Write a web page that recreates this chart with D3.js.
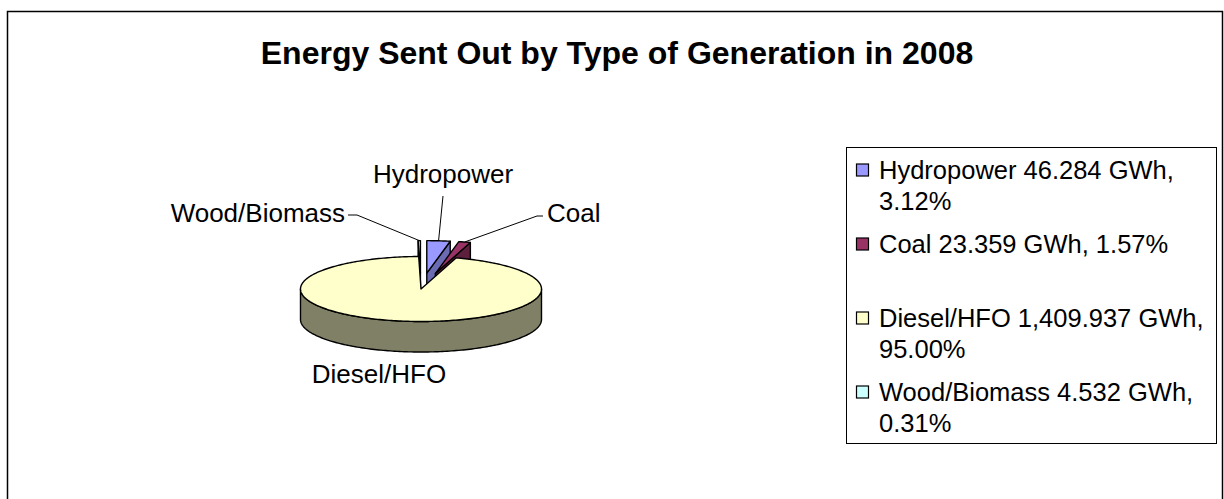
<!DOCTYPE html>
<html>
<head>
<meta charset="utf-8">
<script src="https://cdn.jsdelivr.net/npm/d3@7"></script>
<style>
  body { margin: 0; background: #fff; }
  text { font-family: "Liberation Sans", Arial, sans-serif; fill: #000; }
</style>
</head>
<body>
<svg id="chart" width="1224" height="499"></svg>
<script>
// data
const categories = ["Hydropower", "Coal", "Diesel/HFO", "Wood/Biomass"];
const energyGWh = [46.284, 23.359, 1409.937, 4.532];
const unit = "GWh";

// styling
const topColors = ["#9999FF", "#993366", "#FFFFCC", "#CCFFFF"];
const sideColors = ["#6B6BB3", "#5C1F3D", "#808066", "#7FA6A6"];
const explodeFrac = [0.49, 0.49, 0, 0.49];

const width = 1224, height = 499;
const svg = d3.select("#chart");

// chart frame
svg.append("rect")
    .attr("x", 7.5).attr("y", 11.5)
    .attr("width", 1215).attr("height", 520)
    .attr("fill", "#fff")
    .attr("stroke", "#000")
    .attr("stroke-width", 1.5);

svg.append("text")
    .attr("x", 617).attr("y", 64)
    .attr("text-anchor", "middle")
    .style("font-size", "32px")
    .style("font-weight", "bold")
    .text("Energy Sent Out by Type of Generation in 2008");

// 3d pie geometry
let cx = 421, cy = 289, rx = 120.5, ry = 32.5, depth = 30.5;

let total = d3.sum(energyGWh);
let pct = d3.format(".2%");
let num = d3.format(",.3f");

let pie = d3.pie().sort(null).value(d => d.value)
    .startAngle(0).endAngle(2 * Math.PI);
let arcs = pie(categories.map((c, i) => ({name: c, value: energyGWh[i]})));

function offset(d) {
    let e = explodeFrac[d.index];
    let m = (d.startAngle + d.endAngle) / 2;
    return [rx * e * Math.sin(m), -ry * e * Math.cos(m)];
}
function pt(a, r, z, off) {
    return [cx + off[0] + rx * r * Math.sin(a), cy + off[1] - ry * r * Math.cos(a) + depth * z];
}
function arcPts(a0, a1, z, off) {
    let n = Math.max(2, Math.ceil((a1 - a0) / 0.02));
    return d3.range(n + 1).map(k => pt(a0 + (a1 - a0) * k / n, 1, z, off));
}
let line = d3.line();

let pieG = svg.append("g");
// back slices first
let order = arcs.slice().sort((a, b) =>
    Math.cos((b.startAngle + b.endAngle) / 2) - Math.cos((a.startAngle + a.endAngle) / 2));

order.forEach(d => {
    let off = offset(d);
    let a0 = d.startAngle, a1 = d.endAngle;
    let strokeIt = sel => sel.attr("stroke", "#000").attr("stroke-width", 1.4)
        .attr("stroke-linejoin", "round");

    // radial faces that turn towards the viewer
    [[a0, Math.sin(a0) < -1e-9], [a1, Math.sin(a1) > 1e-9]].forEach(([a, vis]) => {
        if (!vis) return;
        let poly = [pt(a, 0, 0, off), pt(a, 1, 0, off), pt(a, 1, 1, off), pt(a, 0, 1, off)];
        pieG.append("path").attr("d", line(poly) + "Z")
            .attr("fill", sideColors[d.index]).call(strokeIt);
    });

    // front part of the outer wall
    let w0 = Math.max(a0, Math.PI / 2), w1 = Math.min(a1, Math.PI * 1.5);
    if (w1 > w0) {
        let poly = arcPts(w0, w1, 0, off).concat(arcPts(w0, w1, 1, off).reverse());
        pieG.append("path").attr("d", line(poly) + "Z")
            .attr("fill", sideColors[d.index]).call(strokeIt);
    }

    // top face
    let top = [pt(0, 0, 0, off)].concat(arcPts(a0, a1, 0, off));
    pieG.append("path").attr("d", line(top) + "Z")
        .attr("fill", topColors[d.index]).call(strokeIt);
});

// data labels with leader lines
let labelPos = {
    "Hydropower": {x: 443, y: 183, anchor: "middle", lead: [[443, 196]]},
    "Coal": {x: 547, y: 222, anchor: "start", lead: [[543, 216], [537, 216]]},
    "Diesel/HFO": {x: 379, y: 383, anchor: "middle", lead: null},
    "Wood/Biomass": {x: 345, y: 222, anchor: "end", lead: [[348, 215], [357, 215]]}
};

arcs.forEach(d => {
    let lp = labelPos[d.data.name];
    if (lp.lead) {
        let m = (d.startAngle + d.endAngle) / 2;
        let pts = lp.lead.concat([pt(m, 1, 0, offset(d))]);
        svg.append("path").attr("d", line(pts))
            .attr("fill", "none").attr("stroke", "#000").attr("stroke-width", 1);
    }
    svg.append("text")
        .attr("x", lp.x).attr("y", lp.y)
        .attr("text-anchor", lp.anchor)
        .style("font-size", "26px")
        .text(d.data.name);
});

// legend
let lgX = 846.5, lgY = 147.5, lgW = 370, lgH = 296;
svg.append("rect")
    .attr("x", lgX).attr("y", lgY)
    .attr("width", lgW).attr("height", lgH)
    .attr("fill", "#fff").attr("stroke", "#000").attr("stroke-width", 1);

let slotH = lgH / categories.length;
let textX = 879, maxW = 336;

categories.forEach((c, i) => {
    let base = lgY + slotH * i + 31;
    svg.append("rect")
        .attr("x", 856.5).attr("y", base - 14.5)
        .attr("width", 12).attr("height", 12)
        .attr("fill", topColors[i])
        .attr("stroke", "#000").attr("stroke-width", 1.2);

    let words = (c + " " + num(energyGWh[i]) + " " + unit + ", " + pct(energyGWh[i] / total)).split(" ");
    let t = svg.append("text")
        .attr("x", textX).attr("y", base)
        .style("font-size", "25.5px");
    let lineNo = 0, cur = [];
    let ts = t.append("tspan").attr("x", textX).attr("y", base);
    words.forEach(w => {
        cur.push(w);
        ts.text(cur.join(" "));
        if (ts.node().getComputedTextLength() > maxW && cur.length > 1) {
            cur.pop();
            ts.text(cur.join(" "));
            cur = [w];
            lineNo++;
            ts = t.append("tspan").attr("x", textX).attr("y", base + lineNo * 31).text(w);
        }
    });
});
</script>
</body>
</html>
